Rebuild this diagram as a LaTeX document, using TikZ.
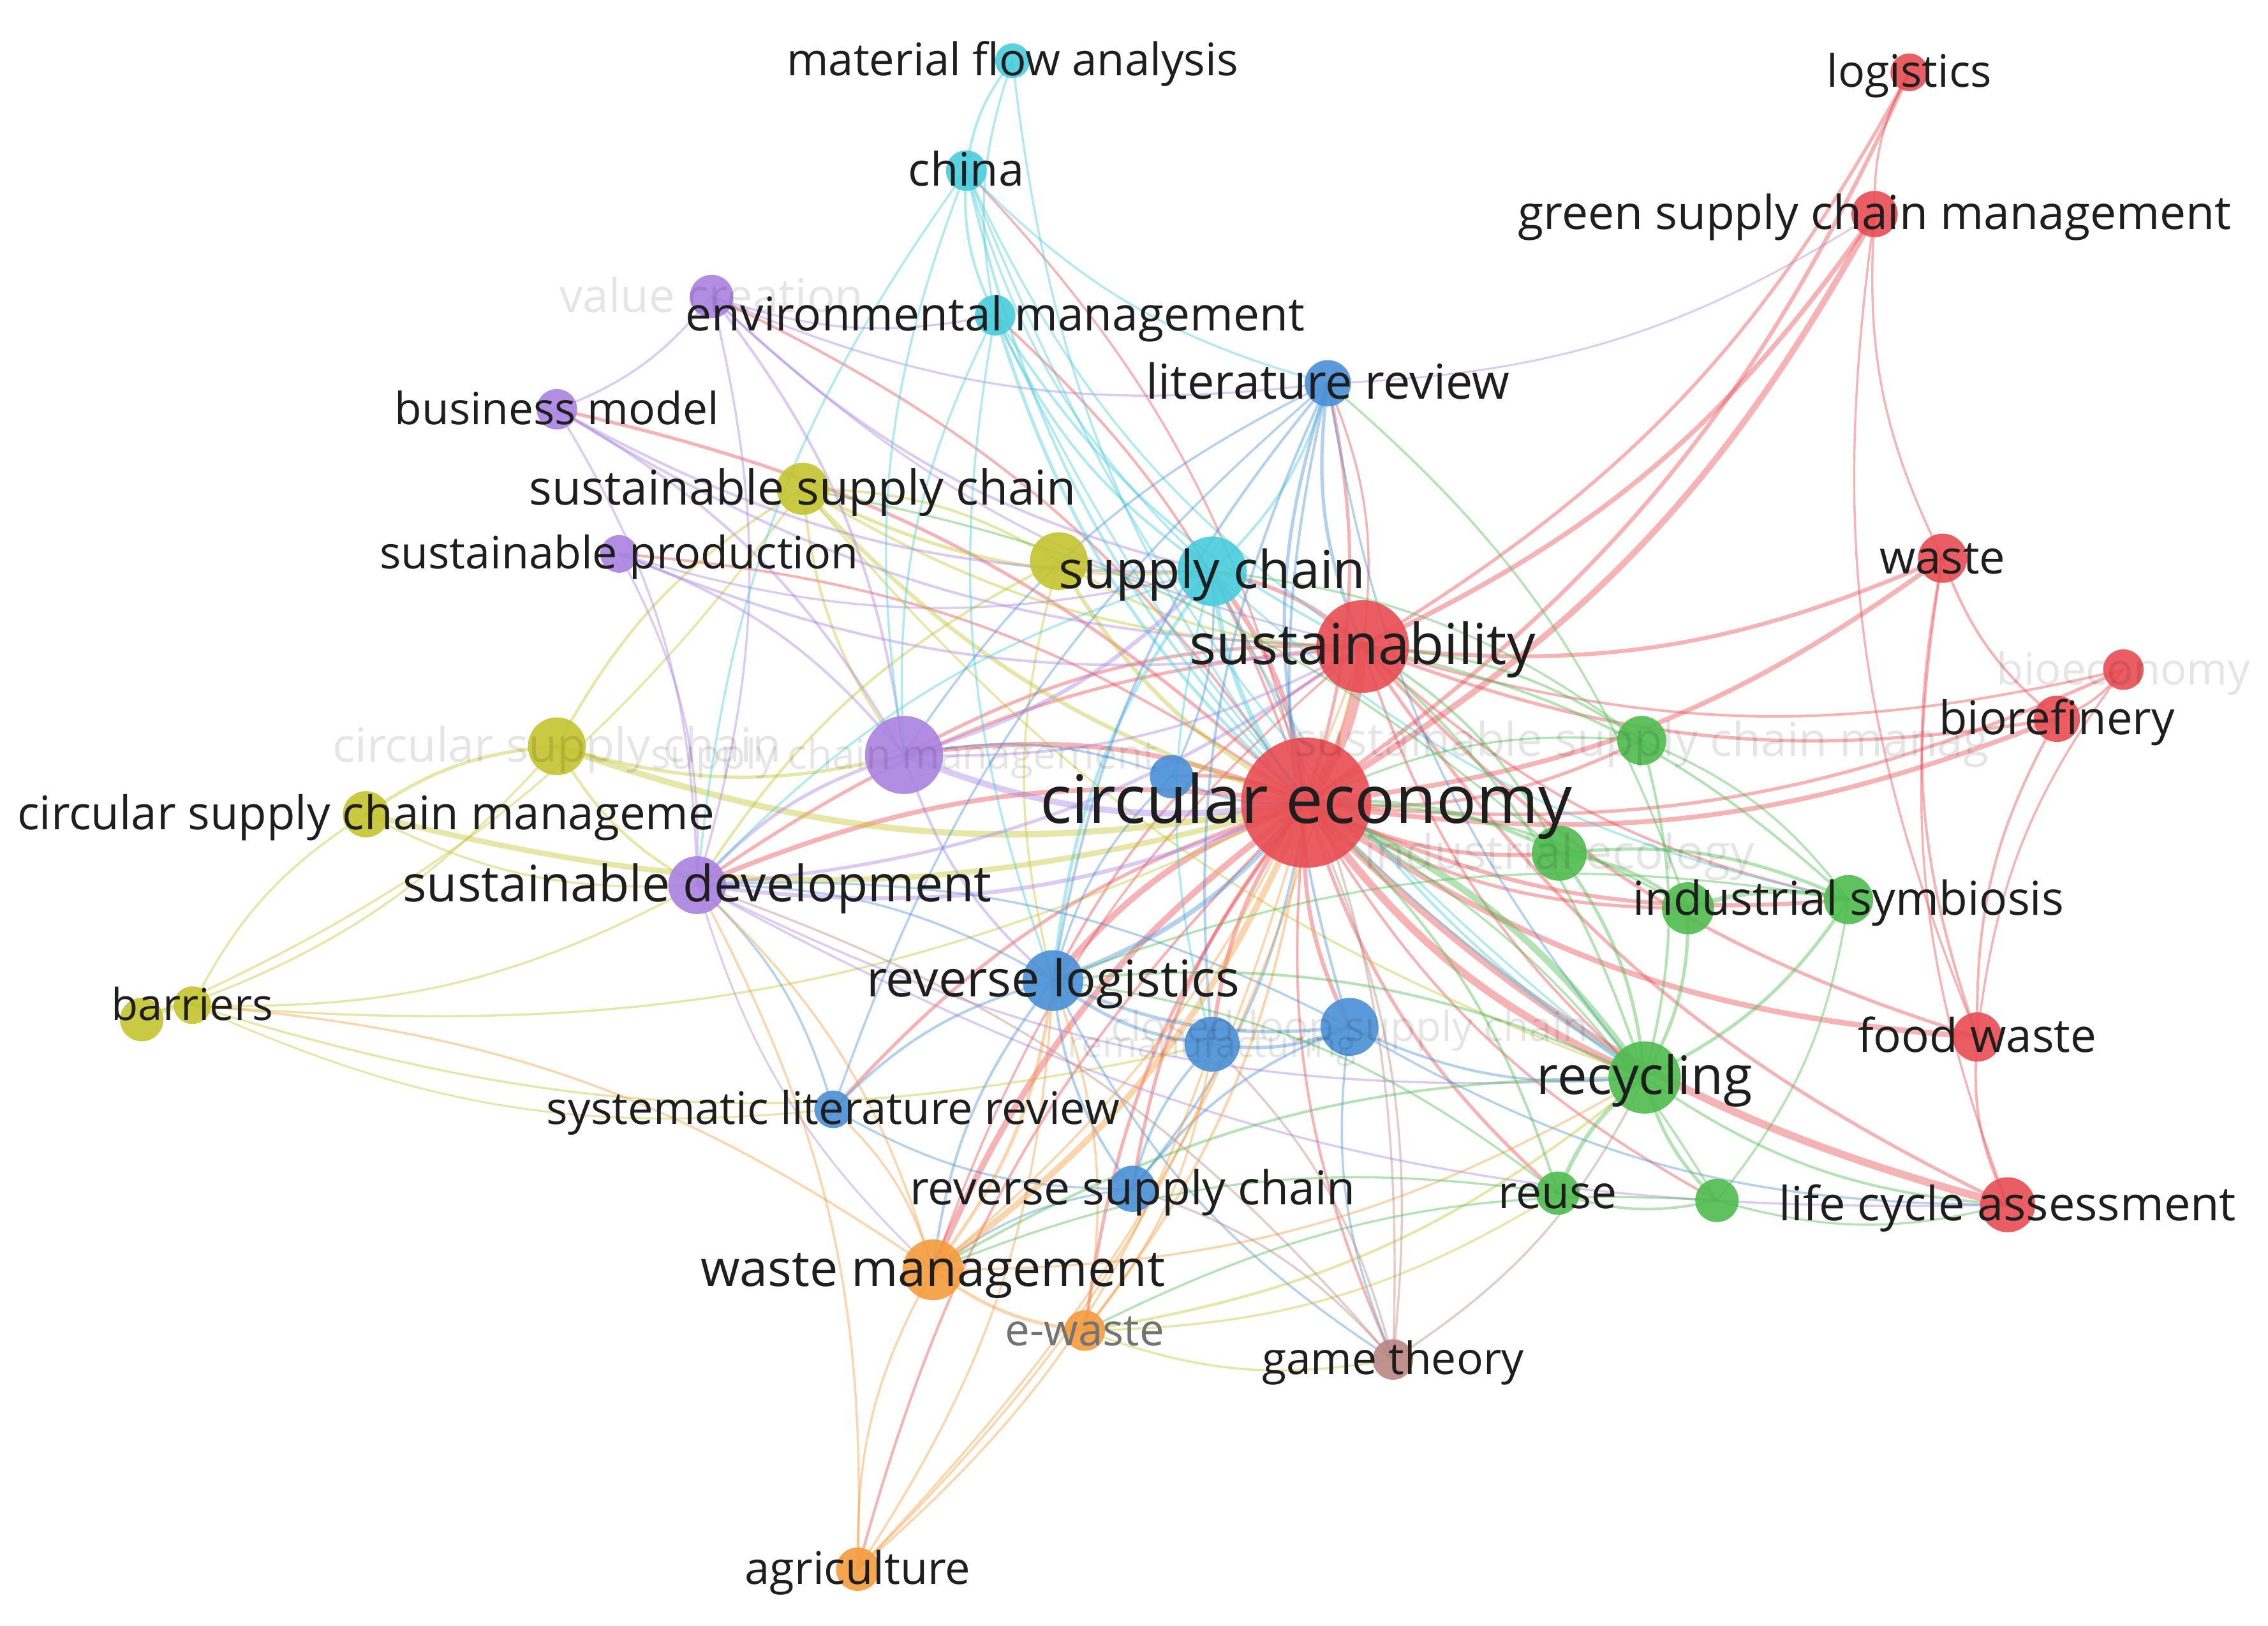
\documentclass[tikz,border=0pt]{standalone}
\usepackage{fontspec}
\setmainfont{Open Sans}
\usepackage{graphicx}
\definecolor{cR}{RGB}{232,76,82}
\definecolor{cG}{RGB}{78,188,78}
\definecolor{cB}{RGB}{74,144,214}
\definecolor{cY}{RGB}{196,196,48}
\definecolor{cP}{RGB}{170,130,225}
\definecolor{cC}{RGB}{72,204,220}
\definecolor{cO}{RGB}{245,155,60}
\definecolor{cBr}{RGB}{185,135,130}
\definecolor{txt}{RGB}{30,30,30}
\pgfdeclarelayer{bg}
\pgfdeclarelayer{back}
\pgfsetlayers{back,bg,main}
\tikzset{
  kw/.style={circle, inner sep=0pt, draw=none, fill opacity=.9},
  lbl/.style={inner sep=0pt, text=txt, anchor=center, yshift=-3pt},
  fad/.style={inner sep=0pt, text=black, text opacity=.1, anchor=center, yshift=-3pt},
  gry/.style={inner sep=0pt, text=black!55, anchor=center, yshift=-3pt}
}
\newcommand\kwn[5]{\node[kw, fill=#5, minimum size=#4pt] (#1) at (#2,#3) {};}
\newcommand\lb[4][lbl]{\node[#1] at (#2) {\resizebox{#3pt}{!}{\strut #4}};}
\newcommand\ed[4]{\draw[#1, line width=#2pt+0.3pt, opacity=.42, line cap=round] (#3.center) to[bend right=15] (#4.center);}
\begin{document}
\begin{tikzpicture}[x=1pt,y=-1pt]
\begin{pgfonlayer}{back}
\fill[white] (0,0) rectangle (1568,1124);
\end{pgfonlayer}
\useasboundingbox (0,0) rectangle (1568,1124);
% nodes (x, y, diameter, colour)
\kwn{mfa}{700}{42}{24}{cC}
\kwn{china}{668}{118}{28}{cC}
\kwn{envm}{688}{218}{28}{cC}
\kwn{valc}{492}{205}{30}{cP}
\kwn{bm}{385}{283}{28}{cP}
\kwn{ssc}{555}{338}{36}{cY}
\kwn{sp}{428}{383}{26}{cP}
\kwn{scy}{732}{388}{40}{cY}
\kwn{sc}{838}{395}{48}{cC}
\kwn{lr}{918}{265}{32}{cB}
\kwn{csc}{385}{516}{40}{cY}
\kwn{scm}{625}{522}{54}{cP}
\kwn{bsm}{810}{537}{30}{cB}
\kwn{cscm}{253}{563}{32}{cY}
\kwn{sd}{482}{612}{40}{cP}
\kwn{bar1}{98}{705}{30}{cY}
\kwn{bar}{133}{695}{26}{cY}
\kwn{rl}{728}{678}{42}{cB}
\kwn{remf}{838}{722}{38}{cB}
\kwn{clsc}{933}{710}{40}{cB}
\kwn{slr}{576}{767}{26}{cB}
\kwn{rsc}{783}{822}{32}{cB}
\kwn{wm}{645}{878}{42}{cO}
\kwn{ew}{750}{920}{28}{cO}
\kwn{gt}{963}{940}{28}{cBr}
\kwn{agr}{593}{1085}{30}{cO}
\kwn{reuse}{1077}{825}{30}{cG}
\kwn{gx}{1187}{830}{30}{cG}
\kwn{lca}{1388}{833}{38}{cR}
\kwn{rec}{1137}{745}{50}{cG}
\kwn{fw}{1367}{717}{34}{cR}
\kwn{gy}{1167}{628}{36}{cG}
\kwn{is}{1278}{622}{34}{cG}
\kwn{ie}{1078}{590}{38}{cG}
\kwn{sscm}{1135}{512}{34}{cG}
\kwn{bio}{1422}{497}{32}{cR}
\kwn{bioe}{1468}{463}{28}{cR}
\kwn{waste}{1343}{386}{34}{cR}
\kwn{gscm}{1296}{148}{32}{cR}
\kwn{log}{1320}{50}{26}{cR}
\kwn{sus}{942}{447}{64}{cR}
\kwn{ce}{903}{555}{90}{cR}
\begin{pgfonlayer}{bg}
% red
\ed{cR}{7}{ce}{sus}
\ed{cR}{4}{ce}{gscm}
\ed{cR}{3}{sus}{gscm}
\ed{cR}{2.5}{ce}{log}
\ed{cR}{2}{sus}{log}
\ed{cR}{3}{ce}{waste}
\ed{cR}{2.5}{sus}{waste}
\ed{cR}{3}{ce}{bio}
\ed{cR}{2}{sus}{bio}
\ed{cR}{2}{ce}{bioe}
\ed{cR}{1.5}{sus}{bioe}
\ed{cR}{3.5}{ce}{fw}
\ed{cR}{2}{sus}{fw}
\ed{cR}{5}{ce}{lca}
\ed{cR}{2}{sus}{lca}
\ed{cR}{1.5}{waste}{bio}
\ed{cR}{1.5}{waste}{fw}
\ed{cR}{1.2}{waste}{lca}
\ed{cR}{1.5}{bio}{bioe}
\ed{cR}{1.5}{bio}{fw}
\ed{cR}{1.2}{bioe}{fw}
\ed{cR}{1.5}{fw}{lca}
\ed{cR}{1.2}{gscm}{waste}
\ed{cR}{1.2}{gscm}{fw}
\ed{cR}{1.2}{log}{gscm}
\ed{cR}{5}{ce}{rec}
\ed{cR}{4}{ce}{rl}
\ed{cR}{4}{ce}{wm}
\ed{cR}{3}{ce}{sc}
\ed{cR}{3}{ce}{scm}
\ed{cR}{3}{ce}{sd}
\ed{cR}{2.5}{ce}{is}
\ed{cR}{2.5}{ce}{ie}
\ed{cR}{2}{ce}{gy}
\ed{cR}{2}{ce}{sscm}
\ed{cR}{2}{ce}{reuse}
\ed{cR}{1.5}{ce}{gx}
\ed{cR}{2.5}{ce}{remf}
\ed{cR}{2.5}{ce}{clsc}
\ed{cR}{2}{ce}{rsc}
\ed{cR}{1.5}{ce}{gt}
\ed{cR}{2}{ce}{ew}
\ed{cR}{1.5}{ce}{agr}
\ed{cR}{2}{ce}{lr}
\ed{cR}{1.5}{ce}{envm}
\ed{cR}{1.2}{ce}{china}
\ed{cR}{2}{ce}{bm}
\ed{cR}{1.5}{ce}{valc}
\ed{cR}{1.5}{ce}{sp}
\ed{cR}{2}{ce}{slr}
\ed{cR}{2}{ce}{bsm}
\ed{cR}{2.5}{sus}{sc}
\ed{cR}{2}{sus}{scm}
\ed{cR}{2}{sus}{sd}
\ed{cR}{1.5}{sus}{rec}
\ed{cR}{1.5}{sus}{is}
\ed{cR}{1.5}{sus}{rl}
\ed{cR}{1.2}{sus}{wm}
\ed{cR}{1.2}{sus}{lr}
% yellow
\ed{cY}{4}{csc}{ce}
\ed{cY}{3.5}{cscm}{ce}
\ed{cY}{2}{csc}{cscm}
\ed{cY}{2}{csc}{scm}
\ed{cY}{2.5}{ssc}{ce}
\ed{cY}{2}{ssc}{sc}
\ed{cY}{1.5}{ssc}{csc}
\ed{cY}{1.5}{ssc}{scm}
\ed{cY}{1.5}{ssc}{sus}
\ed{cY}{1.2}{cscm}{sd}
\ed{cY}{1.2}{cscm}{bar}
\ed{cY}{1.2}{bar}{bar1}
\ed{cY}{1.2}{bar}{ce}
\ed{cY}{1.2}{bar}{sd}
\ed{cY}{1.2}{bar1}{csc}
\ed{cY}{1.2}{bar}{remf}
\ed{cY}{1}{bar}{slr}
\ed{cY}{1.2}{bar1}{ssc}
\ed{cY}{2.5}{scy}{ce}
\ed{cY}{1.5}{scy}{ssc}
\ed{cY}{1.5}{scy}{sd}
\ed{cY}{1.5}{scy}{sus}
\ed{cY}{1.2}{scy}{rl}
\ed{cY}{1.5}{csc}{sd}
\ed{cY}{1.2}{ssc}{rec}
% purple
\ed{cP}{4}{scm}{ce}
\ed{cP}{2.5}{scm}{sc}
\ed{cP}{2}{scm}{sd}
\ed{cP}{1.5}{scm}{rl}
\ed{cP}{1.5}{scm}{bm}
\ed{cP}{1.5}{scm}{sp}
\ed{cP}{1.5}{scm}{valc}
\ed{cP}{1.5}{scm}{sus}
\ed{cP}{2.5}{sd}{ce}
\ed{cP}{2}{sd}{sus}
\ed{cP}{1.2}{sd}{rec}
\ed{cP}{1.2}{sd}{sp}
\ed{cP}{1.2}{sd}{bm}
\ed{cP}{1.2}{sd}{valc}
\ed{cP}{1.5}{bm}{sus}
\ed{cP}{1.5}{bm}{sc}
\ed{cP}{1.2}{bm}{valc}
\ed{cP}{1.5}{valc}{sc}
\ed{cP}{1.2}{valc}{lr}
\ed{cP}{1.2}{valc}{envm}
\ed{cP}{1.2}{valc}{sus}
\ed{cP}{1.5}{sp}{sus}
\ed{cP}{1.2}{sp}{sc}
\ed{cP}{1.2}{sd}{lca}
\ed{cP}{1}{sd}{wm}
% cyan
\ed{cC}{1.5}{mfa}{china}
\ed{cC}{1.2}{mfa}{envm}
\ed{cC}{1.2}{mfa}{ce}
\ed{cC}{1.5}{china}{envm}
\ed{cC}{1.5}{china}{ce}
\ed{cC}{1.2}{china}{sus}
\ed{cC}{1.2}{china}{sc}
\ed{cC}{1.2}{china}{rec}
\ed{cC}{1.2}{china}{scm}
\ed{cC}{1.2}{china}{lr}
\ed{cC}{1.2}{china}{sd}
\ed{cC}{2}{envm}{ce}
\ed{cC}{1.5}{envm}{sc}
\ed{cC}{1.5}{envm}{sus}
\ed{cC}{1.2}{envm}{scm}
\ed{cC}{1.2}{envm}{rl}
\ed{cC}{1.2}{envm}{rec}
\ed{cC}{3}{sc}{ce}
\ed{cC}{2}{sc}{rl}
\ed{cC}{1.5}{sc}{lr}
\ed{cC}{1.5}{sc}{rec}
\ed{cC}{1.2}{sc}{is}
\ed{cC}{1.2}{sc}{remf}
\ed{cC}{1.2}{sc}{sd}
% blue
\ed{cB}{2}{lr}{ce}
\ed{cB}{2}{lr}{sus}
\ed{cB}{1.5}{lr}{rl}
\ed{cB}{1.2}{lr}{rec}
\ed{cB}{1.2}{lr}{scm}
\ed{cB}{1.2}{lr}{slr}
\ed{cP}{1}{lr}{gscm}
\ed{cB}{1.5}{lr}{remf}
\ed{cB}{1.5}{lr}{clsc}
\ed{cB}{3}{rl}{ce}
\ed{cB}{2}{rl}{remf}
\ed{cB}{2}{rl}{clsc}
\ed{cB}{1.5}{rl}{rsc}
\ed{cB}{1.5}{rl}{slr}
\ed{cB}{1.5}{rl}{wm}
\ed{cB}{1.2}{rl}{sd}
\ed{cB}{1.2}{rl}{gt}
\ed{cB}{2}{remf}{clsc}
\ed{cB}{1.5}{remf}{rsc}
\ed{cB}{1.5}{clsc}{rsc}
\ed{cB}{1.5}{clsc}{rec}
\ed{cB}{1.2}{clsc}{gt}
\ed{cB}{1.2}{clsc}{lca}
\ed{cB}{1.2}{clsc}{sd}
\ed{cB}{1.2}{slr}{sd}
\ed{cB}{1.2}{slr}{rsc}
\ed{cB}{1.5}{rsc}{ce}
\ed{cB}{1.2}{rsc}{wm}
\ed{cB}{1.5}{bsm}{ce}
\ed{cB}{1.2}{bsm}{rl}
\ed{cB}{1.2}{bsm}{sc}
\ed{cB}{1.2}{bsm}{scm}
% orange
\ed{cO}{4}{wm}{ce}
\ed{cO}{2}{wm}{rl}
\ed{cO}{2}{wm}{ew}
\ed{cO}{1.2}{wm}{agr}
\ed{cO}{1.2}{wm}{rec}
\ed{cO}{1.2}{wm}{sd}
\ed{cO}{1.2}{wm}{slr}
\ed{cO}{1.2}{wm}{sus}
\ed{cO}{1.2}{wm}{bar}
\ed{cO}{1.5}{ew}{ce}
\ed{cY}{1.5}{ew}{rec}
\ed{cO}{1.2}{ew}{rl}
\ed{cO}{1.2}{ew}{remf}
\ed{cY}{1.2}{ew}{gt}
\ed{cY}{1.2}{ew}{reuse}
\ed{cO}{1.2}{agr}{ce}
\ed{cO}{1.2}{agr}{rl}
\ed{cO}{1.2}{agr}{sus}
\ed{cO}{1.2}{agr}{remf}
\ed{cO}{1.2}{agr}{sd}
% brown
\ed{cBr}{1.2}{gt}{ce}
\ed{cBr}{1.2}{gt}{sc}
\ed{cBr}{1.2}{gt}{remf}
\ed{cBr}{1.2}{gt}{rsc}
\ed{cBr}{1.2}{gt}{sd}
\ed{cBr}{1.2}{gt}{rec}
% green
\ed{cG}{4.5}{rec}{ce}
\ed{cG}{2.5}{rec}{reuse}
\ed{cG}{2}{rec}{gx}
\ed{cG}{2}{rec}{is}
\ed{cG}{2}{rec}{gy}
\ed{cG}{2}{rec}{ie}
\ed{cG}{1.5}{rec}{sscm}
\ed{cG}{1.5}{rec}{lca}
\ed{cG}{1.5}{rec}{wm}
\ed{cG}{1.5}{rec}{sus}
\ed{cG}{1.5}{rec}{rl}
\ed{cG}{1.5}{reuse}{gx}
\ed{cG}{1.5}{reuse}{ce}
\ed{cG}{1.2}{reuse}{wm}
\ed{cG}{1.2}{reuse}{rl}
\ed{cG}{1.2}{gx}{is}
\ed{cG}{1.2}{gx}{lca}
\ed{cG}{1.2}{gx}{ew}
\ed{cG}{1.2}{gx}{ce}
\ed{cG}{3}{is}{gy}
\ed{cG}{2}{is}{ie}
\ed{cG}{1.5}{is}{sus}
\ed{cG}{1.2}{is}{sscm}
\ed{cG}{2}{gy}{ie}
\ed{cG}{1.5}{gy}{ce}
\ed{cG}{2}{ie}{ce}
\ed{cG}{1.5}{ie}{sus}
\ed{cG}{1.5}{sscm}{sus}
\ed{cG}{1.2}{sscm}{sc}
\ed{cG}{1.2}{sscm}{ce}
\ed{cG}{1.2}{is}{rl}
\ed{cG}{1.2}{gy}{lr}
\ed{cG}{1.2}{ie}{ssc}
\end{pgfonlayer}
% labels
\lb[fad]{valc}{210}{value creation}
\lb[fad]{csc}{310}{circular supply chain}
\lb[fad]{scm}{350}{supply chain management}
\lb[fad]{sscm}{480}{sustainable supply chain manag}
\lb[fad]{ie}{270}{industrial ecology}
\lb[fad]{remf}{200}{remanufacturing}
\lb[fad]{clsc}{330}{closed-loop supply chain}
\lb[fad]{bioe}{175}{bioeconomy}
\lb{mfa}{312}{material flow analysis}
\lb{china}{80}{china}
\lb{envm}{428}{environmental management}
\lb{bm}{224}{business model}
\lb{ssc}{378}{sustainable supply chain}
\lb{sp}{331}{sustainable production}
\lb{sc}{212}{supply chain}
\lb{lr}{251}{literature review}
\lb{sus}{239}{sustainability}
\lb{ce}{368}{circular economy}
\lb{cscm}{482}{circular supply chain manageme}
\lb{sd}{407}{sustainable development}
\lb{bar}{112}{barriers}
\lb{rl}{258}{reverse logistics}
\lb{slr}{396}{systematic literature review}
\lb{rsc}{308}{reverse supply chain}
\lb{wm}{321}{waste management}
\lb[gry]{ew}{110}{e-waste}
\lb{gt}{181}{game theory}
\lb{agr}{156}{agriculture}
\lb{reuse}{82}{reuse}
\lb{lca}{316}{life cycle assessment}
\lb{rec}{149}{recycling}
\lb{fw}{165}{food waste}
\lb{is}{298}{industrial symbiosis}
\lb{bio}{163}{biorefinery}
\lb{waste}{87}{waste}
\lb{gscm}{493}{green supply chain management}
\lb{log}{114}{logistics}
\end{tikzpicture}
\end{document}
